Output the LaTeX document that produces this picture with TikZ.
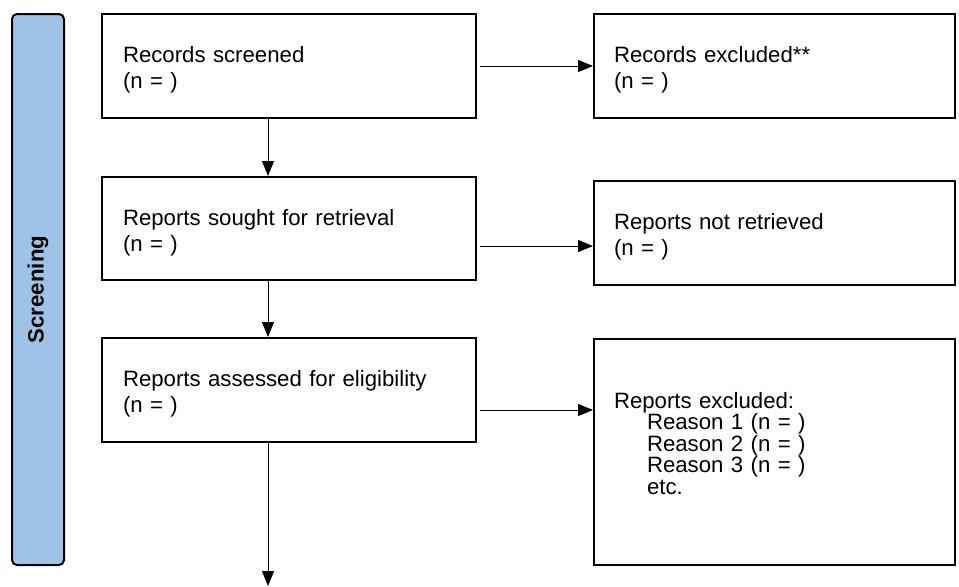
\documentclass[tikz,border=0pt]{standalone}
\usepackage{fontspec}
\setmainfont{Liberation Sans}
\usetikzlibrary{arrows.meta}
\definecolor{barblue}{HTML}{9DC3E6}

\begin{document}
\begin{tikzpicture}[x=0.5pt, y=-0.5pt,
  txt/.style={font=\fontsize{11.1}{13}\selectfont, execute at begin node={\rule{0pt}{12pt}}},
  lbox/.style={txt, draw, line width=1pt, minimum width=187pt, minimum height=52pt, text width=166pt, inner xsep=10.5pt, align=left},
  rbox/.style={txt, draw, line width=1pt, minimum width=180.5pt, minimum height=52pt, text width=160.5pt, inner xsep=10pt, align=left},
  stagebar/.style={draw, line width=1pt, fill=barblue, rounded corners=2.5pt, minimum width=275.5pt, minimum height=26pt, font=\fontsize{11.1}{13}\selectfont\bfseries},
  arr/.style={-{Triangle[length=7.5pt,width=6pt]}, line width=0.5pt}]
\useasboundingbox (0,0) rectangle (959,586);

\node [stagebar, rotate=90] (stage) at (38,289.5) {Screening};

\node [lbox] (screened) at (289,66) {Records screened\\(n = )};
\node [lbox, minimum height=51.5pt] (sought) at (289,228.5) {Reports sought for retrieval\\(n = )};
\node [lbox] (assessed) at (289,390) {Reports assessed for eligibility\\(n = )};

\node [rbox] (recexcl) at (774.5,66) {Records excluded**\\(n = )};
\node [rbox] (notretr) at (774.5,233) {Reports not retrieved\\(n = )};
\node [rbox, minimum height=113pt, font=\fontsize{11.1}{10.75}\selectfont] (repexcl) at (774.5,452)
  {Reports excluded:\\\hspace*{16.5pt}Reason 1 (n = )\\\hspace*{16.5pt}Reason 2 (n = )\\\hspace*{16.5pt}Reason 3 (n = )\\\hspace*{16.5pt}etc.\rule[-13pt]{0pt}{13pt}};

\draw [arr] ([xshift=-10.5pt]screened.south) -- ([xshift=-10.5pt]sought.north);
\draw [arr] ([xshift=-10.5pt]sought.south) -- ([xshift=-10.5pt]assessed.north);
\coordinate (next) at (268,586);
\draw [arr] ([xshift=-10.5pt]assessed.south) -- (next);

\draw [arr] ([xshift=1.5pt]screened.east) -- (recexcl.west);
\coordinate (a2) at ([xshift=1.5pt,yshift=-8.75pt]sought.east);
\draw [arr] (a2) -- (a2 -| notretr.west);
\coordinate (a3) at ([xshift=1.5pt,yshift=-10pt]assessed.east);
\draw [arr] (a3) -- (a3 -| repexcl.west);
\end{tikzpicture}
\end{document}
